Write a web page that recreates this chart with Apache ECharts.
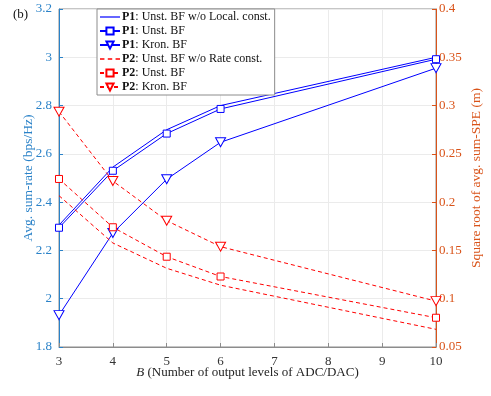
<!DOCTYPE html>
<html>
<head>
<meta charset="utf-8">
<script src="https://cdn.jsdelivr.net/npm/echarts@6/dist/echarts.min.js"></script>
<style>
  html, body { margin: 0; padding: 0; background: #fff; }
  #chart { width: 491px; height: 396px; }
</style>
</head>
<body>
<div id="chart"></div>
<script>
// B values (x axis)
const bLevels = [3, 4, 5, 6, 10];

// P1: avg. sum-rate (left axis, bps/Hz)
const p1NoLocal = [2.305, 2.545, 2.700, 2.800, 3.000];
const p1Unst    = [2.294, 2.530, 2.684, 2.786, 2.992];
const p1Kron    = [1.932, 2.272, 2.495, 2.648, 2.955];

// P2: sqrt of avg. sum-SPE (right axis, m)
const p2NoRate  = [0.2067, 0.1577, 0.1315, 0.1140, 0.0683];
const p2Unst    = [0.2240, 0.1740, 0.1435, 0.1230, 0.0803];
const p2Kron    = [0.2937, 0.2219, 0.1808, 0.1539, 0.0975];

const SERIF = '"Liberation Serif", "DejaVu Serif", serif';
const C = {
  blue: '#0000FF',
  red: '#FF0000',
  leftAxis: '#2a82c8',
  rightAxis: '#D95319',
  grid: '#ebebeb',
  frame: '#8c8c8c'
};

const pair = ys => bLevels.map((b, i) => [b, ys[i]]);

// legend icons for the marker-less series (solid / dashed short line)
const ICON_SOLID = 'path://M0,0H20V1.2H0Z';
const ICON_DASH = 'path://M0,0H4V1.2H0Z M7,0H11V1.2H7Z M14,0H18V1.2H14Z';

const chart = echarts.init(document.getElementById('chart'), null, { renderer: 'canvas' });

function mk(name, ys, axis, color, dashed, symbol) {
  const s = {
    name,
    type: 'line',
    yAxisIndex: axis,
    data: pair(ys),
    lineStyle: { color, width: 1, type: dashed ? [4, 3] : 'solid' },
    itemStyle: { color: '#fff', borderColor: color, borderWidth: 1 },
    symbol: 'none',
    animation: false
  };
  if (symbol === 'rect') {
    s.symbol = 'rect';
    s.symbolSize = 7;
  } else if (symbol === 'tri') {
    s.symbol = 'triangle';
    s.symbolSize = [10, 9];
    s.symbolRotate = 180;
  }
  return s;
}

const names = [
  'P1: Unst. BF w/o Local. const.',
  'P1: Unst. BF',
  'P1: Kron. BF',
  'P2: Unst. BF w/o Rate const.',
  'P2: Unst. BF',
  'P2: Kron. BF'
];

const option = {
  backgroundColor: '#fff',
  title: {
    text: '(b)',
    left: 8,
    top: 3,
    textStyle: { fontFamily: SERIF, fontSize: 13, fontWeight: 'normal', color: '#111' }
  },
  grid: {
    left: 59, right: 54, top: 9, bottom: 49,
    show: true, borderColor: C.frame, borderWidth: 1, backgroundColor: '#fff'
  },
  legend: {
    orient: 'vertical',
    left: 97,
    top: 9,
    itemWidth: 20,
    itemHeight: 9,
    itemGap: 0,
    padding: [1, 4, 1, 2],
    backgroundColor: '#fff',
    borderColor: C.frame,
    borderWidth: 1,
    borderRadius: 0,
    data: [
      { name: names[0], icon: ICON_SOLID, itemStyle: { color: C.blue, borderWidth: 0 } },
      { name: names[1] },
      { name: names[2] },
      { name: names[3], icon: ICON_DASH, itemStyle: { color: C.red, borderWidth: 0 } },
      { name: names[4] },
      { name: names[5] }
    ],
    formatter: n => {
      const k = n.indexOf(':');
      return '{b|' + n.slice(0, k) + '}' + n.slice(k);
    },
    textStyle: {
      fontFamily: SERIF, fontSize: 12, color: '#111', lineHeight: 14, padding: [0, 0, 0, -3],
      rich: { b: { fontFamily: SERIF, fontSize: 12, fontWeight: 'bold', color: '#111', lineHeight: 14 } }
    }
  },
  xAxis: {
    type: 'value',
    min: 3, max: 10, interval: 1,
    name: '{i|B} (Number of output levels of ADC/DAC)',
    nameLocation: 'middle',
    nameGap: 19,
    nameMoveOverlap: false,
    nameTextStyle: {
      fontFamily: SERIF, fontSize: 13, color: '#222',
      rich: { i: { fontFamily: SERIF, fontSize: 13, fontStyle: 'italic', color: '#222' } }
    },
    axisLine: { lineStyle: { color: C.frame } },
    axisTick: { inside: true, length: 4, lineStyle: { color: C.frame } },
    axisLabel: { fontFamily: SERIF, fontSize: 13, color: '#333', margin: 8 },
    splitLine: { show: true, lineStyle: { color: C.grid } }
  },
  yAxis: [
    {
      type: 'value',
      min: 1.8, max: 3.2, interval: 0.2,
      position: 'left',
      name: 'Avg. sum-rate (bps/Hz)',
      nameLocation: 'middle',
      nameRotate: 90,
      nameGap: 24,
      nameMoveOverlap: false,
      nameTextStyle: { fontFamily: SERIF, fontSize: 13.5, color: C.leftAxis },
      axisLine: { show: true, lineStyle: { color: C.leftAxis } },
      axisTick: { show: true, inside: true, length: 4, lineStyle: { color: C.leftAxis } },
      axisLabel: { fontFamily: SERIF, fontSize: 13, color: C.leftAxis, margin: 7,
        formatter: v => String(Math.round(v * 10) / 10) },
      splitLine: { show: true, lineStyle: { color: C.grid } }
    },
    {
      type: 'value',
      min: 0.05, max: 0.4, interval: 0.05,
      position: 'right',
      name: 'Square root of avg. sum-SPE (m)',
      nameLocation: 'middle',
      nameRotate: 90,
      nameGap: 33,
      nameMoveOverlap: false,
      nameTextStyle: { fontFamily: SERIF, fontSize: 13.5, color: C.rightAxis },
      axisLine: { show: true, lineStyle: { color: C.rightAxis } },
      axisTick: { show: true, inside: true, length: 4, lineStyle: { color: C.rightAxis } },
      axisLabel: { fontFamily: SERIF, fontSize: 13, color: C.rightAxis, margin: 3,
        formatter: v => String(Math.round(v * 100) / 100) },
      splitLine: { show: false }
    }
  ],
  series: [
    mk(names[0], p1NoLocal, 0, C.blue, false, null),
    mk(names[1], p1Unst, 0, C.blue, false, 'rect'),
    mk(names[2], p1Kron, 0, C.blue, false, 'tri'),
    mk(names[3], p2NoRate, 1, C.red, true, null),
    mk(names[4], p2Unst, 1, C.red, true, 'rect'),
    mk(names[5], p2Kron, 1, C.red, true, 'tri')
  ]
};

chart.setOption(option);
</script>
</body>
</html>
